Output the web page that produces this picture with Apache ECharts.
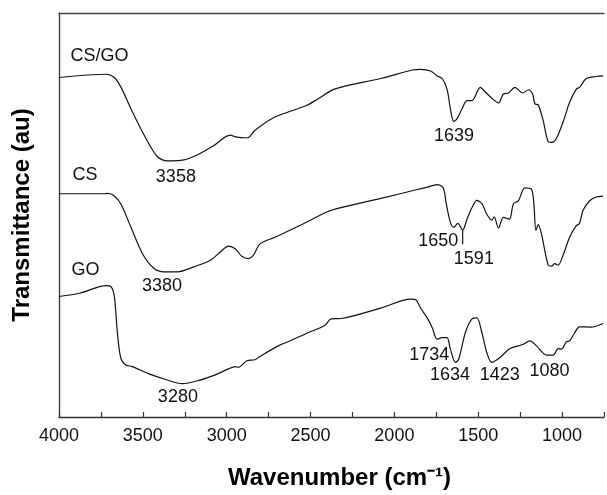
<!DOCTYPE html>
<html>
<head>
<meta charset="utf-8">
<script src="https://cdn.jsdelivr.net/npm/echarts@6/dist/echarts.min.js"></script>
<style>html,body{margin:0;padding:0;background:#fff}#c{width:607px;height:495px}</style>
</head>
<body>
<div id="c"></div>
<script>
// Wavenumber (cm-1) and transmittance (arbitrary, offset) readings
var csgoWave = [4000,3719,3670,3630,3571,3492,3414,3354,3255,3177,3078,2979,2940,2890,2870,2831,2712,2525,2456,2357,2081,1893,1844,1784,1745,1715,1686,1666,1646,1626,1597,1567,1537,1488,1459,1419,1379,1350,1320,1281,1235,1201,1176,1162,1142,1113,1083,1063,1034,994,955,915,896,856,797,755];
var csgoT    = [343.7,347,343.7,333.7,312,285.3,263.7,259.3,260.3,265.3,274.7,285.3,283.3,282.7,283,290.3,303.7,315.3,322,332,342.7,351.3,352,350.3,345.3,342.7,332,312,299.3,302,312,320.3,320.3,333.7,329.3,322.7,318,327,328,333.7,328,331.3,327,317,316,300.3,278.7,278,282,298.7,318.7,332,333.7,342.7,344.7,345.3];

var csWave = [4000,3729,3710,3670,3630,3571,3502,3433,3374,3295,3196,3097,3038,2989,2949,2910,2870,2841,2801,2712,2555,2396,2318,2081,1863,1804,1745,1709,1690,1666,1646,1622,1593,1567,1537,1508,1478,1449,1419,1405,1379,1350,1314,1290,1261,1222,1182,1168,1156,1142,1123,1083,1063,1044,1024,994,955,915,896,876,837,797,755];
var csT    = [226,226,226.3,223.7,215.3,192,165.3,150.3,147,147,152,158.7,167,173,170.3,162.7,160.3,163.7,175.3,182,194.7,208,212,221.3,230.3,232.7,235.3,232,215.3,197,192,196,189.3,200.3,212,219.3,216,205.3,199.3,202.7,191.3,202,200.3,216,218.7,232,230.3,215.3,188.7,194.7,185.3,153.7,152.7,155.3,153.7,163.7,182,193.7,196,208.7,218.7,222.7,223.7];

var goWave = [4000,3877,3719,3690,3670,3650,3630,3601,3562,3463,3364,3265,3166,3068,2989,2949,2930,2880,2831,2811,2693,2623,2515,2416,2377,2318,2081,1903,1873,1844,1804,1774,1745,1715,1686,1666,1636,1616,1577,1537,1508,1478,1449,1419,1370,1311,1261,1231,1192,1152,1093,1053,1024,1004,975,955,925,896,826,755];
var goT    = [122,125.3,133,132,122,82,58.7,52.7,51,43.7,38,33.7,37,42.7,48.7,51,50.3,57,58,60.3,72,77,85.3,92.7,99.3,99.7,110.3,119.3,118.7,110.3,100.3,90.3,78.7,80.3,80.3,68.7,55.3,58.7,85.3,99.3,100.3,85.3,65.3,55.3,60.3,69.3,72,73.7,77,72,62.7,62.7,69.3,68.7,76,77,85.3,91.3,91,94.7];

// Annotation texts with their wavenumber / transmittance anchor
var noteText = ['CS/GO','3358','1639','CS','3380','1650','1591','GO','3280','1734','1634','1423','1080'];
var noteWave = [3759,3303,1644,3845,3386,1739,1526,3842,3291,1792,1668,1371,1075];
var noteT    = [365,243,284,245,133,178,160,149,20,63,42,42,47];

// Small pointer line from the 1591 label
var pointerWave = [1593,1593];
var pointerT = [189,175];

// X tick labels
var xTickLabels = [4000,3500,3000,2500,2000,1500,1000];

function zip(a,b){return a.map(function(v,i){return [v,b[i]];});}

var FONT = '"Liberation Sans", Arial, sans-serif';
var lineStyle = {color:'#111', width:1.2};
var chart = echarts.init(document.getElementById('c'), null, {renderer:'canvas'});
chart.setOption({
  animation:false,
  backgroundColor:'#fff',
  grid:{left:59, right:-1, top:13, bottom:73, containLabel:false},
  xAxis:[{
    type:'value', inverse:true, min:750, max:4000, interval:250,
    axisLine:{show:true, onZero:false, lineStyle:{color:'#333', width:1.3}},
    axisTick:{show:true, inside:true, length:5, lineStyle:{color:'#333', width:1.2}},
    splitLine:{show:false},
    axisLabel:{margin:10, color:'#111', fontSize:18, fontFamily:FONT,
      formatter:function(v){return xTickLabels.indexOf(v)>=0 ? String(v) : '';}},
    name:'Wavenumber (cm\u207B\u00B9)', nameLocation:'middle', nameGap:49,
    nameTextStyle:{fontSize:24, fontWeight:'bold', color:'#000', fontFamily:FONT, padding:[0,0,0,16]}
  },{
    type:'value', inverse:true, min:750, max:4000, position:'top',
    axisLine:{show:true, onZero:false, lineStyle:{color:'#444', width:1.3}},
    axisTick:{show:false}, axisLabel:{show:false}, splitLine:{show:false}
  }],
  yAxis:{
    type:'value', min:0, max:409,
    axisLine:{show:true, onZero:false, lineStyle:{color:'#333', width:1.3}},
    axisTick:{show:false}, axisLabel:{show:false}, splitLine:{show:false},
    name:'Transmittance (au)', nameLocation:'middle', nameGap:25, nameRotate:90,
    nameTextStyle:{fontSize:24, fontWeight:'bold', color:'#000', fontFamily:FONT}
  },
  series:[
    {type:'line', data:zip(csgoWave,csgoT), showSymbol:false, smooth:0.3, lineStyle:lineStyle},
    {type:'line', data:zip(csWave,csT), showSymbol:false, smooth:0.3, lineStyle:lineStyle},
    {type:'line', data:zip(goWave,goT), showSymbol:false, smooth:0.3, lineStyle:lineStyle},
    {type:'line', data:zip(pointerWave,pointerT), showSymbol:false, lineStyle:{color:'#111', width:1.2}},
    {type:'scatter', symbolSize:0, itemStyle:{opacity:1},
      data:noteText.map(function(t,i){return {name:t, value:[noteWave[i], noteT[i]]};}),
      label:{show:true, position:'inside', formatter:'{b}', color:'#111', fontSize:18, fontFamily:FONT, textBorderWidth:0, opacity:1}}
  ]
});
</script>
</body>
</html>
